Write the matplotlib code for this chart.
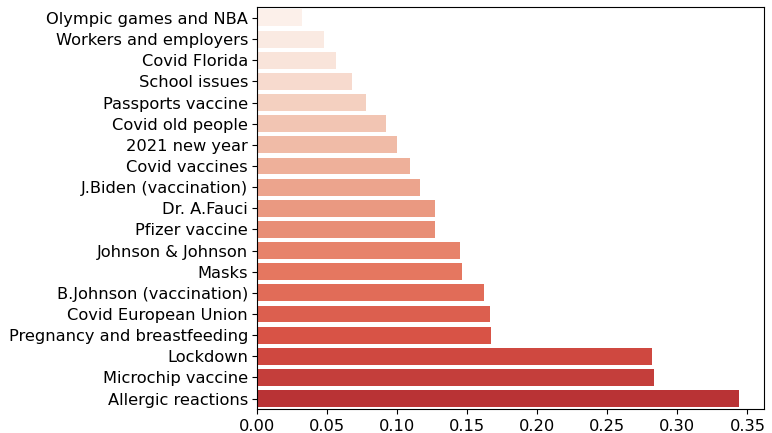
import matplotlib
matplotlib.use("Agg")
import matplotlib.pyplot as plt
import seaborn as sns

topics = ["Olympic games and NBA", "Workers and employers", "Covid Florida",
          "School issues", "Passports vaccine", "Covid old people",
          "2021 new year", "Covid vaccines", "J.Biden (vaccination)",
          "Dr. A.Fauci", "Pfizer vaccine", "Johnson & Johnson", "Masks",
          "B.Johnson (vaccination)", "Covid European Union",
          "Pregnancy and breastfeeding", "Lockdown", "Microchip vaccine",
          "Allergic reactions"]
scores = [0.032, 0.048, 0.056, 0.068, 0.078, 0.092, 0.100, 0.109, 0.116,
          0.127, 0.127, 0.145, 0.146, 0.162, 0.166, 0.167, 0.282, 0.283,
          0.344]

pal = sns.color_palette("Reds", 25)[:len(topics)]

fig = plt.figure(figsize=(7.72, 4.33), dpi=100)
ax = fig.add_axes([0.333, 0.055, 0.657, 0.928])
sns.barplot(x=scores, y=topics, hue=topics, palette=pal, legend=False, ax=ax)
ax.set_xlim(0, 0.362)
ax.set_xticks([i * 0.05 for i in range(8)])
ax.set_xticklabels(["%.2f" % (i * 0.05) for i in range(8)])
ax.tick_params(labelsize=11.7)
ax.tick_params(axis="y", pad=3)
ax.set_xlabel("")
ax.set_ylabel("")
plt.savefig("out.png", format="PNG")
